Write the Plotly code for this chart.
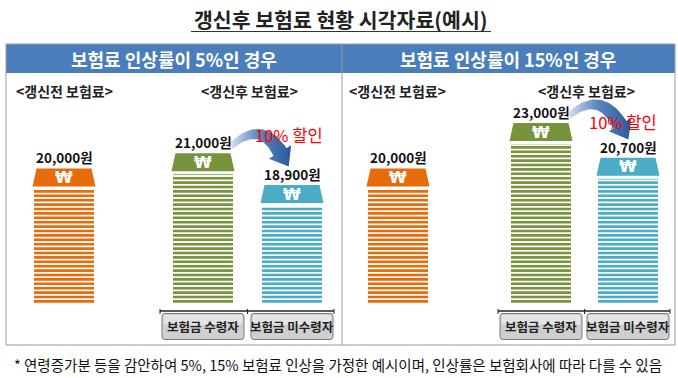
import plotly.graph_objects as go
import numpy as np

# ---------------- data ----------------
title_text = "갱신후 보험료 현황 시각자료(예시)"
panel_titles = ["보험료 인상률이 5%인 경우", "보험료 인상률이 15%인 경우"]
before_premium = [20000, 20000]          # 갱신전 보험료
after_receiver = [21000, 23000]          # 갱신후 - 보험금 수령자
after_nonreceiver = [18900, 20700]       # 갱신후 - 보험금 미수령자
group_labels = ["<갱신전 보험료>", "<갱신후 보험료>"]
button_labels = ["보험금 수령자", "보험금 미수령자"]
discount_text = "10% 할인"
footnote = "* 연령증가분 등을 감안하여 5%, 15% 보험료 인상을 가정한 예시이며, 인상률은 보험회사에 따라 다를 수 있음"

# ---------------- layout constants ----------------
W, H = 678, 378
FONT = "Noto Sans CJK KR"
BASE_PX = 303            # pixel row of bar base
A = 0.015126             # pixels per won
Y0 = 11100               # value at bar base
ORANGE, GREEN, BLUE = "#E46C0A", "#77933C", "#4BACC6"
slot_x = [[64, 203, 292], [398, 541, 628]]   # bar centres per panel
BAR_W = 60
CAP_H = 18
STRIPE_GAP = 21
discount_pos = [(289, 135), (623, 122)]


def v2px(v):
    return BASE_PX - (v - Y0) * A


def px2v(p):
    return Y0 + (BASE_PX - p) / A


def PX(x):
    return x / W


def PY(y):
    return 1 - y / H


def ann(x, y, text, size, color, xref="paper", yref="paper", family=FONT, **kw):
    d = dict(x=x, y=y, xref=xref, yref=yref, text=text, showarrow=False,
             xanchor="center", yanchor="middle", font=dict(family=family, size=size, color=color))
    d.update(kw)
    return d


fig = go.Figure()
shapes = []
annots = []

# header band, table frame
shapes.append(dict(type="rect", xref="paper", yref="paper", x0=PX(6), x1=PX(675), y0=PY(73), y1=PY(44),
                   fillcolor="#4A7EBB", line=dict(width=0), layer="below"))
shapes.append(dict(type="rect", xref="paper", yref="paper", x0=PX(6), x1=PX(675), y0=PY(345), y1=PY(44),
                   fillcolor="rgba(0,0,0,0)", line=dict(color="#9A9A9A", width=1), layer="below"))
shapes.append(dict(type="line", xref="paper", yref="paper", x0=PX(342), x1=PX(342), y0=PY(345), y1=PY(44),
                   line=dict(color="#9A9A9A", width=1), layer="below"))
# title
annots.append(ann(PX(341), PY(19), "<b>" + title_text + "</b>", 20.5, "#222222"))
shapes.append(dict(type="line", xref="paper", yref="paper", x0=PX(191), x1=PX(491), y0=PY(31.5), y1=PY(31.5),
                   line=dict(color="#333333", width=1.2)))
# panel headers
for p, t in enumerate(panel_titles):
    cx = [174, 508][p]
    annots.append(ann(PX(cx), PY(59), "<b>" + t + "</b>", 18, "white"))

series = [(before_premium, ORANGE, 0), (after_receiver, GREEN, 1), (after_nonreceiver, BLUE, 2)]

for vals, col, k in series:
    xs = [slot_x[p][k] for p in range(2)]
    fig.add_trace(go.Bar(
        x=xs, y=[v - STRIPE_GAP / A - Y0 for v in vals], base=Y0, width=BAR_W,
        marker=dict(color="white", line=dict(width=0),
                    pattern=dict(shape="-", fgcolor=col, bgcolor="white", size=4.4, solidity=0.6,
                                 fillmode="replace")),
        hoverinfo="skip", showlegend=False))
    for p, v in enumerate(vals):
        c = slot_x[p][k]
        top = v
        bot = px2v(v2px(v) + CAP_H)
        path = (f"M {c - 31.5},{bot} L {c + 31.5},{bot} L {c + 27.5},{top} L {c - 27.5},{top} Z")
        shapes.append(dict(type="path", xref="x", yref="y", path=path, fillcolor=col,
                           line=dict(width=0), layer="above"))
        annots.append(ann(c, (top + bot) / 2, "<b>₩</b>", 16, "white", xref="x", yref="y",
                          family="DejaVu Sans"))
        annots.append(ann(c, v, f"<b>{v:,}원</b>", 13.5, "#111111", xref="x", yref="y",
                          yanchor="bottom", yshift=-1))

# group labels, baselines, buttons, arrows
for p in range(2):
    bx0 = slot_x[p][0]
    gx, bx = slot_x[p][1], slot_x[p][2]
    annots.append(ann(PX(bx0), PY(91), "<b>" + group_labels[0] + "</b>", 14, "#222222"))
    annots.append(ann(PX((gx + bx) / 2 + 2), PY(91), "<b>" + group_labels[1] + "</b>", 14, "#222222"))
    # baseline
    lx0, lx1 = gx - 43, bx + 42
    shapes.append(dict(type="line", xref="paper", yref="paper", x0=PX(lx0), x1=PX(lx1), y0=PY(311), y1=PY(311),
                       line=dict(color="#222222", width=1.3)))
    for tx in [lx0, (gx + bx) / 2, lx1]:
        shapes.append(dict(type="line", xref="paper", yref="paper", x0=PX(tx), x1=PX(tx), y0=PY(309), y1=PY(314),
                           line=dict(color="#222222", width=1)))
    # buttons
    for j, cx in enumerate([gx, bx]):
        x0, x1, y0, y1, r = cx - 41, cx + 41, 313.5, 339.5, 3
        pth = (f"M {PX(x0 + r)},{PY(y0)} L {PX(x1 - r)},{PY(y0)} Q {PX(x1)},{PY(y0)} {PX(x1)},{PY(y0 + r)} "
               f"L {PX(x1)},{PY(y1 - r)} Q {PX(x1)},{PY(y1)} {PX(x1 - r)},{PY(y1)} "
               f"L {PX(x0 + r)},{PY(y1)} Q {PX(x0)},{PY(y1)} {PX(x0)},{PY(y1 - r)} "
               f"L {PX(x0)},{PY(y0 + r)} Q {PX(x0)},{PY(y0)} {PX(x0 + r)},{PY(y0)} Z")
        shapes.append(dict(type="path", xref="paper", yref="paper", path=pth, fillcolor="#CFCFCF",
                           line=dict(color="#7A7A7A", width=1)))
        shapes.append(dict(type="rect", xref="paper", yref="paper", x0=PX(x0 + 1.5), x1=PX(x1 - 1.5),
                           y0=PY(y0 + 11), y1=PY(y0 + 1.5), fillcolor="#E4E4E4", line=dict(width=0)))
        annots.append(ann(PX(cx), PY(326.5), "<b>" + button_labels[j] + "</b>", 12.5, "#222222"))
    # curved arrow
    gt = v2px(after_receiver[p])
    bt = v2px(after_nonreceiver[p])
    S = np.array([gx + 28, gt - 7])
    E = np.array([bx - 12 + 4 * p, bt - 33])
    C = np.array([S[0] + 0.6 * (E[0] - S[0]), gt - 34])
    t = np.linspace(0, 1, 30)
    pts = ((1 - t) ** 2)[:, None] * S + (2 * (1 - t) * t)[:, None] * C + (t ** 2)[:, None] * E
    der = (2 * (1 - t))[:, None] * (C - S) + (2 * t)[:, None] * (E - C)
    der = der / np.linalg.norm(der, axis=1)[:, None]
    nrm = np.stack([-der[:, 1], der[:, 0]], axis=1)
    wdt = 3 + 4.5 * t
    upper = pts + nrm * wdt[:, None]
    lower = pts - nrm * wdt[:, None]
    u = der[-1]
    nv = nrm[-1]
    tip = E + u * 17
    h1 = E + nv * 13
    h2 = E - nv * 13
    poly = np.vstack([upper, h1[None], tip[None], h2[None], lower[::-1]])
    fig.add_trace(go.Scatter(
        x=poly[:, 0], y=[px2v(yy) for yy in poly[:, 1]], mode="lines", fill="toself",
        line=dict(width=0, color="rgba(0,0,0,0)"),
        fillgradient=dict(type="horizontal", colorscale=[[0, "#DCE6F3"], [0.45, "#5F89C2"], [1, "#2A5898"]]),
        hoverinfo="skip", showlegend=False))
    dx, dy = discount_pos[p]
    annots.append(ann(PX(dx), PY(dy), discount_text, 16.5, "#FF0000"))

annots.append(ann(PX(338), PY(364), footnote, 14.5, "#111111"))

fig.update_layout(
    width=W, height=H, margin=dict(l=0, r=0, t=0, b=0),
    paper_bgcolor="white", plot_bgcolor="white", showlegend=False,
    xaxis=dict(range=[0, W], visible=False, fixedrange=True),
    yaxis=dict(range=[px2v(H), px2v(0)], visible=False, fixedrange=True, domain=[0, 1]),
    shapes=shapes, annotations=annots,
)

fig.write_html("out.html", config={"displayModeBar": False},
               post_script="document.body.style.margin='0';")
